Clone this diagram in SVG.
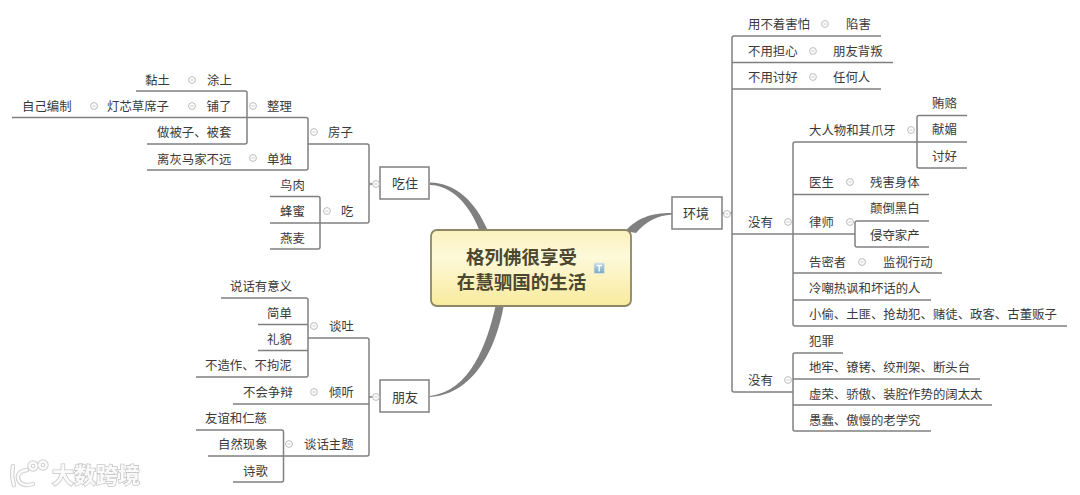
<svg xmlns="http://www.w3.org/2000/svg" width="1080" height="495" viewBox="0 0 1080 495">
<style>
text{font-family:"Noto Sans CJK SC","Liberation Sans",sans-serif;font-size:12.4px;fill:#3a3a3a}
.b{font-size:13px}
.t{font-size:18.5px;font-weight:700;fill:#4c4830;text-anchor:middle}
.box{fill:#fff;stroke:#808080;stroke-width:1.5}
.l{fill:none;stroke:#808080;stroke-width:1.5;stroke-linejoin:round}
.m{fill:#808080}
.w{font-size:22px;font-weight:700;fill:#fafafa;stroke:#c8c8c8;stroke-width:1.6;paint-order:stroke}
.lo{fill:none;stroke:#cfcfcf;stroke-width:4.4;stroke-linecap:round}
.li{fill:none;stroke:#fbfbfb;stroke-width:2.4;stroke-linecap:round}
</style>
<defs>
<linearGradient id="g" x1="0" y1="0" x2="0" y2="1"><stop offset="0" stop-color="#fbf1bd"/><stop offset=".35" stop-color="#fdf9da"/><stop offset="1" stop-color="#f9ea9c"/></linearGradient>
<linearGradient id="ic" x1="0" y1="0" x2="0" y2="1"><stop offset="0" stop-color="#bcd8e4"/><stop offset="1" stop-color="#7fa9bc"/></linearGradient>
<filter id="soft" x="-5%" y="-20%" width="110%" height="140%"><feGaussianBlur stdDeviation=".5"/></filter>
<g id="c"><circle r="3.4" fill="#fff" stroke="#bcbcbc" stroke-width="1"/><path d="M-1.6 0H1.6" stroke="#bcbcbc" stroke-width=".8"/></g>
</defs>
<rect width="1080" height="495" fill="#fff"/>
<g id="connectors">
<path class="m" d="M430 182.500C455 183 475 200 488.500 232L480 232C470 205 452 185.500 430 185Z"/>
<path class="m" d="M504 304C497 345 476 394 430 397L430 396C470 391 487 345 496 304Z"/>
<path class="m" d="M672 213C650 213 638 218 625 231L636 233C646 222 656 215.500 672 214.500Z"/>
<path class="l" d="M136 91H245a2 2 0 0 1 2 2V142a2 2 0 0 1-2 2H147"/>
<path class="l" d="M12 117.500H306a2 2 0 0 1 2 2V168a2 2 0 0 1-2 2H147"/>
<path class="l" d="M308 144H367a2 2 0 0 1 2 2V221a2 2 0 0 1-2 2H270"/>
<path class="l" d="M270 196.500H318a2 2 0 0 1 2 2V247a2 2 0 0 1-2 2H270"/>
<path class="l" d="M369 184H380"/>
<path class="l" d="M221 298H306a2 2 0 0 1 2 2V375a2 2 0 0 1-2 2H196"/>
<path class="l" d="M258 324.500H308M258 350.500H308"/>
<path class="l" d="M308 338H367a2 2 0 0 1 2 2V454a2 2 0 0 1-2 2H208"/>
<path class="l" d="M233 404H369M369 397H380"/>
<path class="l" d="M196 430H281.500a2 2 0 0 1 2 2V480a2 2 0 0 1-2 2H233"/>
<path class="l" d="M722 213H732"/>
<path class="l" d="M881 36H734a2 2 0 0 0-2 2V390a2 2 0 0 0 2 2H793"/>
<path class="l" d="M732 62.500H893M732 89H881"/>
<path class="l" d="M967 142H795a2 2 0 0 0-2 2V324a2 2 0 0 0 2 2H1067"/>
<path class="l" d="M967 115.500H919a2 2 0 0 0-2 2V166a2 2 0 0 0 2 2H967"/>
<path class="l" d="M793 194.500H929M793 273H942M793 300H931"/>
<path class="l" d="M732 234H855"/>
<path class="l" d="M929 221H857a2 2 0 0 0-2 2V245a2 2 0 0 0 2 2H929"/>
<path class="l" d="M843 353H795a2 2 0 0 0-2 2V429a2 2 0 0 0 2 2H931"/>
<path class="l" d="M793 379H980M793 405H992"/>
</g>
<g id="center">
<rect x="431" y="230" width="200" height="76" rx="6" fill="url(#g)" stroke="#8c8766" stroke-width="1.800"/>
<text class="t" x="521.500" y="264">格列佛很享受</text>
<text class="t" x="521.500" y="289">在慧驷国的生活</text>
<rect x="594" y="263" width="10.500" height="10.500" rx="1" fill="url(#ic)" stroke="#d8e6ea" stroke-width=".8"/>
<path d="M596.500 265.500h5.500M599.200 265.500v6" stroke="#fff" stroke-width="1.300" fill="none"/>
</g>
<g id="n-chizhu"><rect class="box" x="380" y="167" width="49" height="32"/><text class="b" x="392" y="188">吃住</text><use href="#c" x="376" y="184"/></g>
<g id="n-pengyou"><rect class="box" x="380" y="380" width="49" height="32"/><text class="b" x="392" y="401.500">朋友</text><use href="#c" x="376" y="397"/></g>
<g id="n-huanjing"><rect class="box" x="672" y="197" width="50" height="32"/><text class="b" x="683" y="217.500">环境</text><use href="#c" x="727" y="214"/></g>
<g id="n1"><text x="145" y="85">黏土</text><use href="#c" x="192" y="80"/><text x="207" y="85">涂上</text></g>
<g id="n2"><text x="22" y="110.500">自己编制</text><use href="#c" x="94" y="106"/><text x="107" y="110.500">灯芯草席子</text><use href="#c" x="192" y="106"/><text x="206.500" y="110.500">铺了</text><use href="#c" x="253" y="106"/><text x="267" y="110.500">整理</text></g>
<g id="n3"><text x="157" y="137">做被子、被套</text></g>
<g id="n4"><use href="#c" x="314" y="132"/><text x="328" y="137">房子</text></g>
<g id="n5"><text x="157" y="163.500">离灰马家不远</text><use href="#c" x="253" y="158"/><text x="267" y="163.500">单独</text></g>
<g id="n6"><text x="280" y="189.500">鸟肉</text></g>
<g id="n7"><text x="280" y="216">蜂蜜</text><use href="#c" x="327" y="211"/><text x="341" y="216">吃</text></g>
<g id="n8"><text x="280" y="242.500">燕麦</text></g>
<g id="n9"><text x="230" y="290.500">说话有意义</text></g>
<g id="n10"><text x="267" y="317.500">简单</text></g>
<g id="n11"><text x="267" y="343.500">礼貌</text></g>
<g id="n12"><use href="#c" x="314" y="326"/><text x="329" y="330.500">谈吐</text></g>
<g id="n13"><text x="205" y="369.500">不造作、不拘泥</text></g>
<g id="n14"><text x="243" y="396.500">不会争辩</text><use href="#c" x="314" y="392"/><text x="329" y="396.500">倾听</text></g>
<g id="n15"><text x="205" y="422.500">友谊和仁慈</text></g>
<g id="n16"><text x="218" y="448.500">自然现象</text><use href="#c" x="289" y="444"/><text x="304" y="448.500">谈话主题</text></g>
<g id="n17"><text x="243" y="475.500">诗歌</text></g>
<g id="n18"><text x="748" y="28.500">用不着害怕</text><use href="#c" x="825" y="24"/><text x="846" y="28.500">陷害</text></g>
<g id="n19"><text x="748" y="55.500">不用担心</text><use href="#c" x="813" y="51"/><text x="833" y="55.500">朋友背叛</text></g>
<g id="n20"><text x="748" y="81.500">不用讨好</text><use href="#c" x="813" y="77"/><text x="833" y="81.500">任何人</text></g>
<g id="n21"><text x="932" y="107.500">贿赂</text></g>
<g id="n22"><text x="932" y="133.500">献媚</text></g>
<g id="n23"><text x="932" y="160.500">讨好</text></g>
<g id="n24"><text x="809" y="134.500">大人物和其爪牙</text><use href="#c" x="911" y="130"/></g>
<g id="n25"><text x="809" y="186.500">医生</text><use href="#c" x="850" y="182"/><text x="870" y="186.500">残害身体</text></g>
<g id="n26"><text x="809" y="226.500">律师</text><use href="#c" x="850" y="222"/></g>
<g id="n27"><text x="870" y="212.500">颠倒黑白</text></g>
<g id="n28"><text x="870" y="239.500">侵夺家产</text></g>
<g id="n29"><text x="748" y="226.500">没有</text><use href="#c" x="788" y="222"/></g>
<g id="n30"><text x="809" y="266.500">告密者</text><use href="#c" x="862" y="262"/><text x="883" y="266.500">监视行动</text></g>
<g id="n31"><text x="809" y="292.500">冷嘲热讽和坏话的人</text></g>
<g id="n32"><text x="809" y="318.500">小偷、土匪、抢劫犯、赌徒、政客、古董贩子</text></g>
<g id="n33"><text x="809" y="345.500">犯罪</text></g>
<g id="n34"><text x="809" y="371.500">地牢、镣铐、绞刑架、断头台</text></g>
<g id="n35"><text x="809" y="398.500">虚荣、骄傲、装腔作势的阔太太</text></g>
<g id="n36"><text x="809" y="424.500">愚蠢、傲慢的老学究</text></g>
<g id="n37"><text x="748" y="384.500">没有</text><use href="#c" x="788" y="380"/></g>
<g id="watermark" filter="url(#soft)">
<path class="lo" d="M13 466Q11 476 14 485M27 470C19 471 16 476 19 481C21 485 27 486 33 484"/>
<circle class="lo" cx="33" cy="466" r="3.500"/><circle class="lo" cx="43" cy="465" r="3.500"/>
<path class="li" d="M13 466Q11 476 14 485M27 470C19 471 16 476 19 481C21 485 27 486 33 484"/>
<circle class="li" cx="33" cy="466" r="3.500"/><circle class="li" cx="43" cy="465" r="3.500"/>
<text class="w" x="52" y="483">大数跨境</text>
</g>
</svg>
